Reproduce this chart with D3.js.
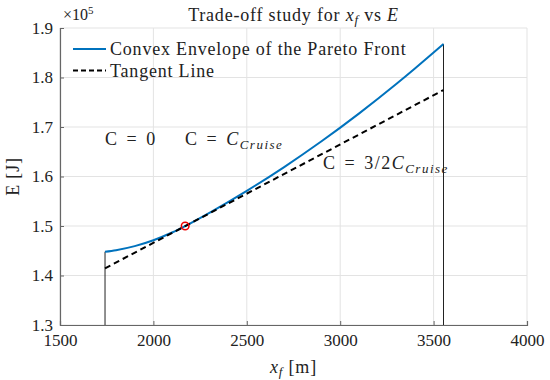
<!DOCTYPE html>
<html lang="en">
<head>
<meta charset="UTF-8" />
<title>Trade-off study</title>
<script src="https://d3js.org/d3.v7.min.js"></script>
<style>
  body { margin: 0; background: #fff; }
  svg { font-family: "Liberation Serif", "DejaVu Serif", serif; }
  .grid line { stroke: #e3e3e3; stroke-width: 1; }
  .wide { letter-spacing: 0.8px; }
</style>
</head>
<body>
<svg width="550" height="380"></svg>
<script>
// values (E in units of 1e5 J)
const envelopeX = [1741, 1800, 1900, 2000, 2100, 2170, 2300, 2500, 2700, 2900, 3100, 3300, 3400, 3500, 3553];
const envelopeE = [1.448, 1.4512, 1.4594, 1.4713, 1.4869, 1.4999, 1.5267, 1.571, 1.6191, 1.6711, 1.727, 1.7867, 1.8181, 1.8504, 1.8679];
const tangentX = [1741, 3553];
const tangentE = [1.4145, 1.7747];
const tangentPoint = [2170, 1.5];
const xTicks = [1500, 2000, 2500, 3000, 3500, 4000];
const yTicks = [1.3, 1.4, 1.5, 1.6, 1.7, 1.8, 1.9];

const svg = d3.select("svg");
const mLeft = 60, mRight = 527, mTop = 28, mBottom = 325;

const x = d3.scaleLinear().domain([1500, 4000]).range([mLeft, mRight]);
const y = d3.scaleLinear().domain([1.3, 1.9]).range([mBottom, mTop]);

// grid
const grid = svg.append("g").attr("class", "grid");
grid.selectAll(".gx").data(xTicks).enter().append("line")
  .attr("x1", d => x(d)).attr("x2", d => x(d))
  .attr("y1", mTop).attr("y2", mBottom);
grid.selectAll(".gy").data(yTicks).enter().append("line")
  .attr("x1", mLeft).attr("x2", mRight)
  .attr("y1", d => y(d)).attr("y2", d => y(d));

// axes
const xAxis = svg.append("g")
  .attr("transform", `translate(0,${mBottom})`)
  .call(d3.axisBottom(x).tickValues(xTicks).tickSize(-4).tickPadding(9).tickFormat(d3.format("d")));
const yAxis = svg.append("g")
  .attr("transform", `translate(${mLeft},0)`)
  .call(d3.axisLeft(y).tickValues(yTicks).tickSize(-4).tickPadding(7).tickFormat(d3.format(".1f")));
[xAxis, yAxis].forEach(a => {
  a.select(".domain").attr("stroke", "#666").attr("stroke-width", 1.2);
  a.selectAll(".tick line").attr("stroke", "#666");
  a.selectAll("text").attr("fill", "#222").style("font-size", "17px")
    .style("font-family", "Liberation Serif, serif");
});

// vertical bounds
const vx = [envelopeX[0], envelopeX[envelopeX.length - 1]];
const ve = [envelopeE[0], envelopeE[envelopeE.length - 1]];
svg.append("g").selectAll("line").data(vx).enter().append("line")
  .attr("x1", d => x(d)).attr("x2", d => x(d))
  .attr("y1", y(1.3)).attr("y2", (d, i) => y(ve[i]))
  .attr("stroke", "#222").attr("stroke-width", 1);

// envelope
const line = d3.line().x(d => x(d[0])).y(d => y(d[1])).curve(d3.curveMonotoneX);
svg.append("path")
  .datum(envelopeX.map((v, i) => [v, envelopeE[i]]))
  .attr("d", line).attr("fill", "none")
  .attr("stroke", "#0072BD").attr("stroke-width", 2);

// tangent
svg.append("path")
  .datum(tangentX.map((v, i) => [v, tangentE[i]]))
  .attr("d", d3.line().x(d => x(d[0])).y(d => y(d[1])))
  .attr("fill", "none").attr("stroke", "#000").attr("stroke-width", 2)
  .attr("stroke-dasharray", "6,4");

// tangent point
svg.append("circle")
  .attr("cx", x(tangentPoint[0])).attr("cy", y(tangentPoint[1])).attr("r", 3.8)
  .attr("fill", "none").attr("stroke", "#e00").attr("stroke-width", 1.5);

// title
const title = svg.append("text").attr("class", "wide").attr("x", (mLeft + mRight) / 2).attr("y", 21)
  .attr("text-anchor", "middle").style("font-size", "18px").attr("fill", "#222");
title.append("tspan").text("Trade-off study for ");
title.append("tspan").attr("font-style", "italic").text("x");
title.append("tspan").attr("font-style", "italic").attr("dy", 3).style("font-size", "13px").text("f");
title.append("tspan").attr("dy", -3).text(" vs ");
title.append("tspan").attr("font-style", "italic").text("E");

// exponent
const ex = svg.append("text").attr("x", 63).attr("y", 20).style("font-size", "16px").attr("fill", "#222");
ex.append("tspan").text("×10");
ex.append("tspan").attr("dy", -6).style("font-size", "11px").text("5");

// axis labels
const xl = svg.append("text").attr("class", "wide").attr("x", (mLeft + mRight) / 2).attr("y", 373)
  .attr("text-anchor", "middle").style("font-size", "18px").attr("fill", "#222");
xl.append("tspan").attr("font-style", "italic").text("x");
xl.append("tspan").attr("font-style", "italic").attr("dy", 3).style("font-size", "13px").text("f");
xl.append("tspan").attr("dy", -3).text(" [m]");

svg.append("text").attr("class", "wide").attr("transform", `translate(19,${(mTop + mBottom) / 2}) rotate(-90)`)
  .attr("text-anchor", "middle").style("font-size", "18px").attr("fill", "#222").text("E [J]");

// legend
const legend = [
  { label: "Convex Envelope of the Pareto Front", color: "#0072BD", dash: null },
  { label: "Tangent Line", color: "#000", dash: "5,3" }
];
const lg = svg.append("g").selectAll("g").data(legend).enter().append("g")
  .attr("transform", (d, i) => `translate(73,${49 + i * 21.5})`);
lg.append("line").attr("x1", 0).attr("x2", 33)
  .attr("stroke", d => d.color).attr("stroke-width", 2)
  .attr("stroke-dasharray", d => d.dash);
lg.append("text").attr("class", "wide").attr("x", 37).attr("y", 6).style("font-size", "18px").attr("fill", "#222")
  .text(d => d.label);

// annotations
const ann = [
  { x: 105, y: 145, main: "C = 0", it: "", sub: "" },
  { x: 185, y: 145, main: "C = ", it: "C", sub: "Cruise" },
  { x: 323, y: 169, main: "C = 3/2", it: "C", sub: "Cruise" }
];
ann.forEach(a => {
  const t = svg.append("text").attr("x", a.x).attr("y", a.y)
    .style("font-size", "18px").style("letter-spacing", "1.5px").style("word-spacing", "2px").attr("fill", "#222");
  t.append("tspan").text(a.main);
  if (a.it) {
    t.append("tspan").attr("font-style", "italic").text(a.it);
    t.append("tspan").attr("font-style", "italic").attr("dy", 4).style("font-size", "13px").text(a.sub);
  }
});
</script>
</body>
</html>
